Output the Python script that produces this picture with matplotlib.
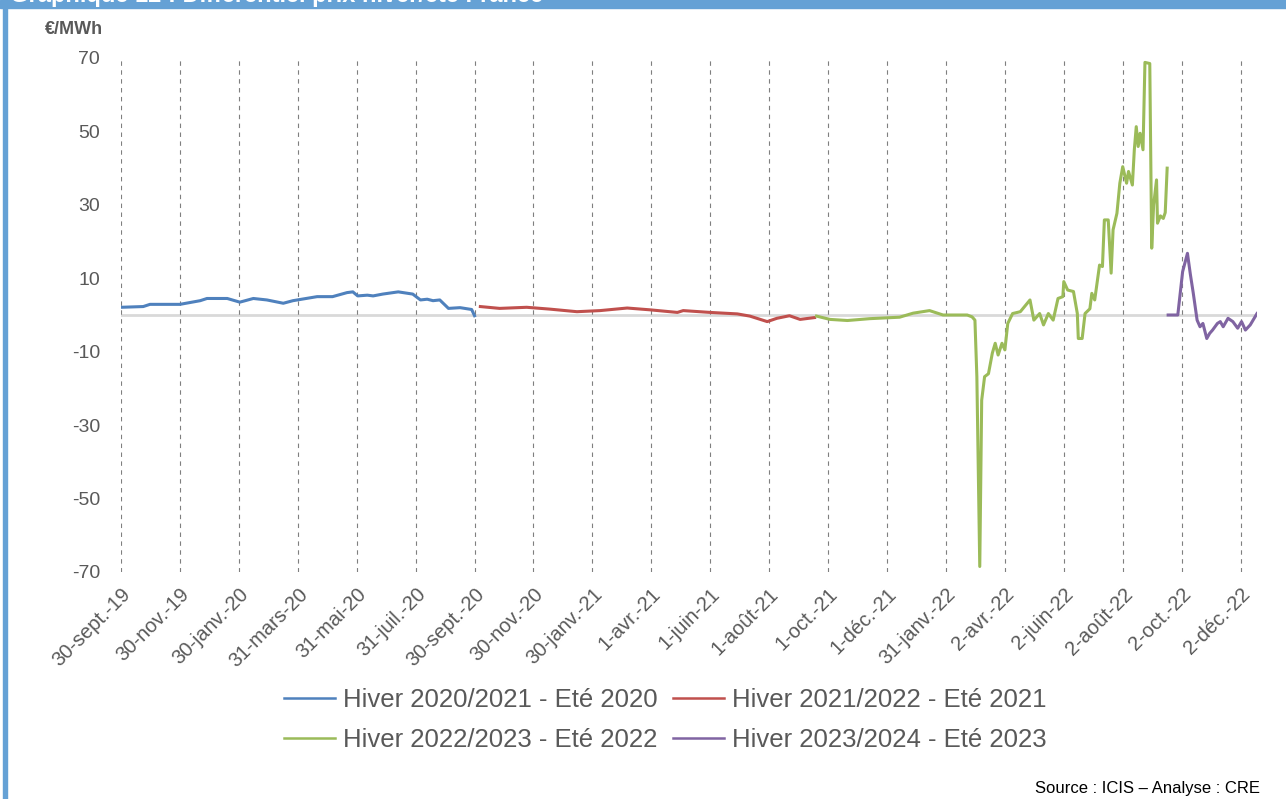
import pandas as pd
import matplotlib
matplotlib.use('Agg')
import matplotlib.pyplot as plt
from matplotlib.patches import Rectangle

plt.rcParams['font.family'] = ['Liberation Sans', 'DejaVu Sans']
plt.rcParams['axes.unicode_minus'] = False

start = pd.Timestamp('2019-09-30')

# x positions as days since 30-sept-19, values in EUR/MWh
blue_days = [0, 23, 30, 61, 82, 89, 110, 123, 137, 151, 168, 178, 203, 219, 234, 240,
             245, 255, 261, 271, 287, 302, 310, 317, 323, 330, 339, 351, 363, 366]
blue_vals = [2.1, 2.3, 2.9, 2.9, 3.9, 4.5, 4.5, 3.5, 4.5, 4.1, 3.2, 3.9, 5.0, 5.0, 6.1, 6.3,
             5.2, 5.4, 5.2, 5.7, 6.3, 5.7, 4.1, 4.3, 3.9, 4.1, 1.8, 2.0, 1.5, -0.2]

red_days = [372, 392, 420, 444, 472, 496, 524, 548, 576, 582, 610, 638, 651, 669, 679, 692, 703, 718]
red_vals = [2.3, 1.8, 2.1, 1.6, 0.9, 1.2, 1.9, 1.4, 0.7, 1.2, 0.7, 0.3, -0.3, -1.8, -0.9, -0.2, -1.2, -0.7]

green_days = [720, 734, 752, 775, 806, 820, 837, 851, 876, 881, 884, 886, 889, 891, 894, 898,
              902, 905, 908, 912, 915, 918, 923, 931, 941, 945, 951, 955, 960, 965, 970, 975,
              976, 980, 986, 990, 991, 995, 998, 1003, 1005, 1008, 1013, 1016, 1018, 1022, 1025,
              1027, 1031, 1034, 1037, 1041, 1043, 1047, 1049, 1051, 1053, 1055, 1058, 1060,
              1065, 1067, 1069, 1072, 1073, 1076, 1079, 1081, 1083]
green_vals = [-0.3, -1.2, -1.5, -1.0, -0.6, 0.5, 1.2, 0.0, 0.0, -0.5, -1.4, -16.8, -68.5, -23.2,
              -16.8, -16.0, -10.4, -7.7, -10.9, -7.7, -9.5, -2.3, 0.4, 0.9, 4.1, -1.4, 0.4, -2.7,
              0.4, -1.4, 4.5, 5.0, 9.1, 6.8, 6.4, 0.4, -6.4, -6.4, 0.4, 1.7, 5.9, 4.1, 13.6, 13.2,
              25.9, 25.9, 11.4, 23.2, 27.7, 35.9, 40.4, 35.9, 39.1, 35.4, 45.0, 51.3, 45.9, 49.5,
              45.0, 68.8, 68.5, 18.2, 30.0, 36.8, 25.0, 27.0, 26.3, 27.9, 40.0]

purple_days = [1084, 1094, 1099, 1104, 1107, 1110, 1114, 1117, 1120, 1124, 1127, 1130, 1135,
               1138, 1141, 1146, 1151, 1156, 1160, 1164, 1169, 1176]
purple_vals = [0.0, 0.0, 11.8, 16.8, 11.1, 6.0, -1.4, -3.2, -2.3, -6.4, -5.0, -4.1, -2.3,
               -1.8, -3.2, -0.9, -1.8, -3.6, -1.8, -4.1, -2.7, 0.4]

series_names = ['Hiver 2020/2021 - Eté 2020', 'Hiver 2021/2022 - Eté 2021',
                'Hiver 2022/2023 - Eté 2022', 'Hiver 2023/2024 - Eté 2023']
colors = ['#4F81BD', '#C0504D', '#9BBB59', '#8064A2']

tick_dates = ['2019-09-30', '2019-11-30', '2020-01-30', '2020-03-31', '2020-05-31',
              '2020-07-31', '2020-09-30', '2020-11-30', '2021-01-30', '2021-04-01',
              '2021-06-01', '2021-08-01', '2021-10-01', '2021-12-01', '2022-01-31',
              '2022-04-02', '2022-06-02', '2022-08-02', '2022-10-02', '2022-12-02']
tick_labels = ['30-sept.-19', '30-nov.-19', '30-janv.-20', '31-mars-20', '31-mai-20',
               '31-juil.-20', '30-sept.-20', '30-nov.-20', '30-janv.-21', '1-avr.-21',
               '1-juin-21', '1-août-21', '1-oct.-21', '1-déc.-21', '31-janv.-22',
               '2-avr.-22', '2-juin-22', '2-août-22', '2-oct.-22', '2-déc.-22']
y_ticks = [70, 50, 30, 10, -10, -30, -50, -70]

W, H = 1286, 799
fig = plt.figure(figsize=(W / 100, H / 100), dpi=100)
ax = fig.add_axes([121 / W, 1 - 572 / H, (1257 - 121) / W, (572 - 58) / H])

ax.axhline(0, color='#d9d9d9', lw=2, zorder=1)
all_days = [blue_days, red_days, green_days, purple_days]
all_vals = [blue_vals, red_vals, green_vals, purple_vals]
lines = []
for d, v, name, c in zip(all_days, all_vals, series_names, colors):
    x = start + pd.to_timedelta(d, unit='D')
    ln, = ax.plot(x, v, color=c, lw=2.2, label=name, zorder=3)
    lines.append(ln)

ax.set_ylim(-70, 70)
ax.set_xlim(start, start + pd.Timedelta(days=1176))
ax.set_yticks(y_ticks)
ax.set_xticks(pd.to_datetime(tick_dates))
ax.set_xticklabels(tick_labels, rotation=45, ha='right', va='top', rotation_mode='anchor')
ax.tick_params(axis='both', length=0, labelsize=14, labelcolor='#595959')
ax.tick_params(axis='x', labelsize=14.5, pad=9)
ax.tick_params(axis='y', pad=15)
ax.grid(axis='x', color='#7f7f7f', linestyle=(0, (4, 4)), lw=0.8)
for s in ax.spines.values():
    s.set_visible(False)

fig.text(45 / W, 1 - 30 / H, '€/MWh', fontsize=13, fontweight='bold', color='#595959', va='center')

# row-wise legend order: blue, red on first row
order = [0, 2, 1, 3]
leg = fig.legend([lines[i] for i in order], [series_names[i] for i in order],
                 loc='center', bbox_to_anchor=(665 / W, 1 - 720 / H), ncol=2, frameon=False,
                 fontsize=18.5, labelcolor='#595959', handlelength=2.0, handletextpad=0.3,
                 columnspacing=0.6, labelspacing=0.65, borderpad=0)
for h in leg.get_lines():
    h.set_linewidth(1.8)

# frame and cut title band
fig.patches.append(Rectangle((0, 1 - 8 / H), 1, 8 / H, transform=fig.transFigure,
                             color='#65A1D5', zorder=0))
fig.patches.append(Rectangle((3 / W, 0), 4 / W, 1, transform=fig.transFigure,
                             color='#65A1D5', zorder=0))
fig.text(10 / W, 1 - 2 / H, 'Graphique 12 : Différentiel prix hiver/été France', fontsize=17,
         fontweight='bold', color='white', va='baseline')

fig.text(1035 / W, 1 - 789 / H, 'Source : ICIS – Analyse : CRE', fontsize=12, color='black',
         va='center')

fig.savefig('out.png', dpi=100)
